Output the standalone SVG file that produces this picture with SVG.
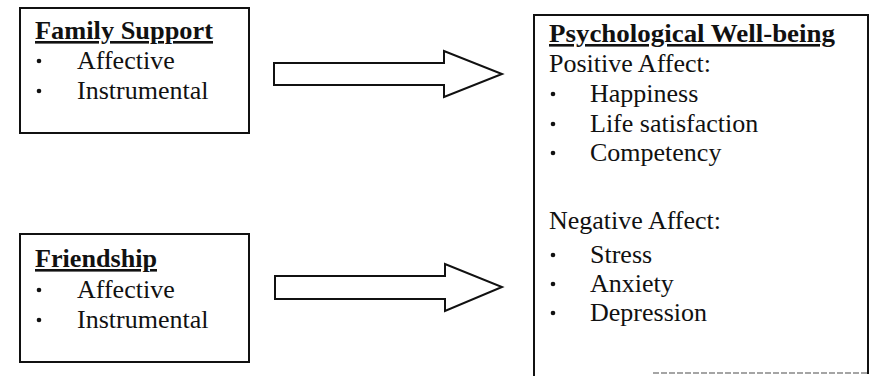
<svg xmlns="http://www.w3.org/2000/svg" width="874" height="376" viewBox="0 0 874 376">
<style>
  .box { fill: #fff; stroke: #111; stroke-width: 2; }
  .arrow { fill: #fff; stroke: #111; stroke-width: 2; stroke-linejoin: miter; }
  text { font-family: "Liberation Serif", "Times New Roman", serif; font-size: 26px; fill: #111; }
  .head { font-weight: bold; text-decoration: underline; }
</style>
<defs>
  <circle id="bullet" r="2.3" fill="#111"/>
</defs>
<rect width="874" height="376" fill="#fff"/>
<g id="connectors">
  <polygon class="arrow" points="274,63 444,63 444,51 502,74 444,97 444,85 274,85"/>
  <polygon class="arrow" points="275,276 445,276 445,264 502,287 445,311 445,299 275,299"/>
</g>
<g id="family-support">
  <rect class="box" x="20" y="8" width="229" height="125"/>
  <text class="head" x="35" y="39" textLength="178" lengthAdjust="spacingAndGlyphs">Family Support</text>
  <use href="#bullet" x="39" y="61"/>
  <text x="77" y="69">Affective</text>
  <use href="#bullet" x="39" y="91"/>
  <text x="77" y="99">Instrumental</text>
</g>
<g id="friendship">
  <rect class="box" x="20" y="234" width="229" height="128"/>
  <text class="head" x="35" y="267" textLength="122" lengthAdjust="spacingAndGlyphs">Friendship</text>
  <use href="#bullet" x="39" y="290"/>
  <text x="77" y="298">Affective</text>
  <use href="#bullet" x="39" y="320"/>
  <text x="77" y="328">Instrumental</text>
</g>
<g id="psychological-well-being">
  <path d="M534,376 V15 H868 V374" fill="none" stroke="#111" stroke-width="2"/>
  <path d="M653,373 H868" fill="none" stroke="#888" stroke-width="1.5" stroke-dasharray="6,2"/>
  <text class="head" x="549" y="42" textLength="286" lengthAdjust="spacingAndGlyphs">Psychological Well-being</text>
  <text x="549" y="72">Positive Affect:</text>
  <use href="#bullet" x="553" y="94"/>
  <text x="590" y="102">Happiness</text>
  <use href="#bullet" x="553" y="124"/>
  <text x="590" y="132">Life satisfaction</text>
  <use href="#bullet" x="553" y="153"/>
  <text x="590" y="161">Competency</text>
  <text x="549" y="229">Negative Affect:</text>
  <use href="#bullet" x="553" y="255"/>
  <text x="590" y="263">Stress</text>
  <use href="#bullet" x="553" y="284"/>
  <text x="590" y="292">Anxiety</text>
  <use href="#bullet" x="553" y="313"/>
  <text x="590" y="321">Depression</text>
</g>
</svg>
